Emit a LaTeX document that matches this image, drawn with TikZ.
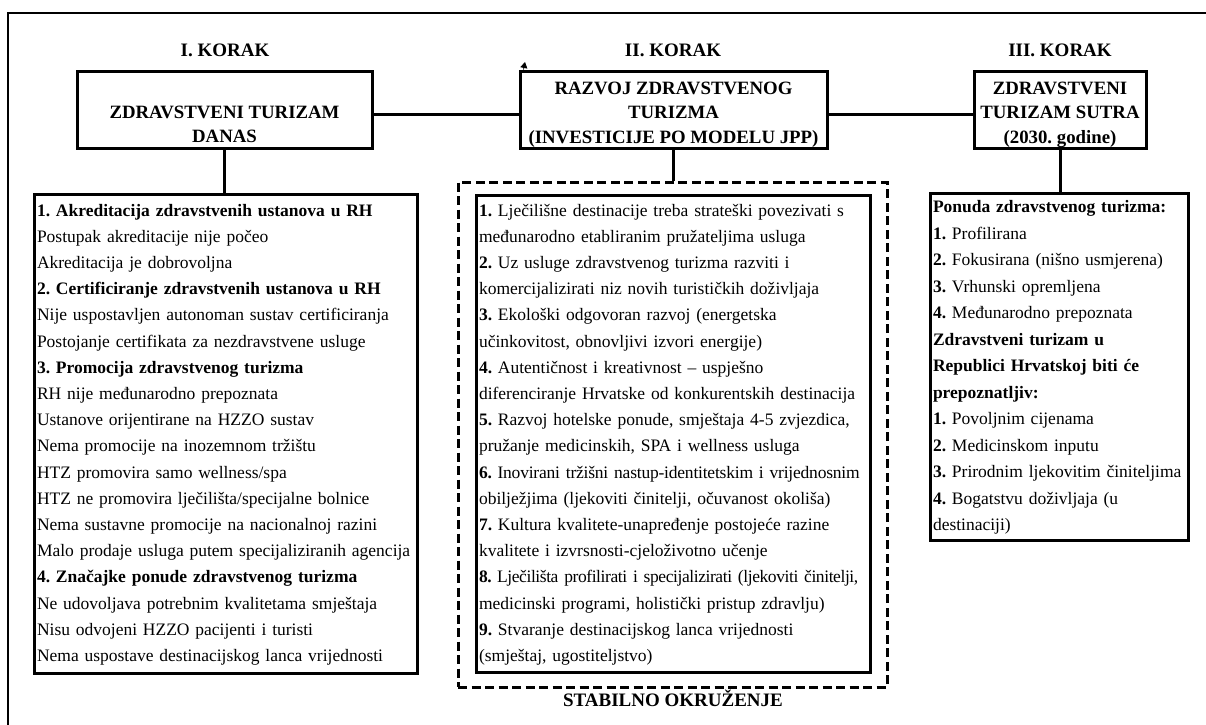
\documentclass[tikz,border=0pt]{standalone}
\usepackage{fontspec}
\setmainfont{Liberation Serif}
\usetikzlibrary{arrows.meta, positioning}
\newcommand{\tightline}[2][-1.2]{{\addfontfeatures{LetterSpace=#1}#2}}

\begin{document}
\frenchspacing
\begin{tikzpicture}[x=1pt, y=-1pt, >=Stealth,
  every node/.style={font=\fontsize{17.5}{26.2}\selectfont},
  korak/.style={font=\bfseries\fontsize{19}{22}\selectfont, inner sep=0pt},
  stepbox/.style={draw, line width=3pt, inner sep=0pt, minimum height=77pt},
  steptext/.style={align=center, inner sep=0pt, font=\bfseries\fontsize{18.8}{24.5}\selectfont},
  listbox/.style={draw, line width=3pt, inner xsep=3pt, inner ysep=0pt},
  envbox/.style={draw, line width=3pt, dash pattern=on 9pt off 4.5pt, inner sep=0pt},
  link/.style={line width=3pt}]
  \useasboundingbox (0,0) rectangle (1206,724);
  % outer frame (cut at the right and bottom)
  \begin{scope}
    \clip (0,0) rectangle (1206,724);
    \draw[line width=1.6pt] (8,13) rectangle (1220,740);
  \end{scope}
  % Step I
  \node[korak] (k1) at (225,50) {I. KORAK};
  \node[stepbox, minimum width=295pt] (box1) at (224.5,109.5) {};
  \node[steptext] (box1 text) at ([yshift=-15pt]box1.center) {ZDRAVSTVENI TURIZAM\\DANAS};
  \node[listbox, text width=377pt, minimum height=479pt] (list1) at (225.5,433.5) {%
    \begin{tabular}{@{}l@{}}
    \textbf{1. Akreditacija zdravstvenih ustanova u RH}\\
    Postupak akreditacije nije počeo\\
    Akreditacija je dobrovoljna\\
    \textbf{2. Certificiranje zdravstvenih ustanova u RH}\\
    Nije uspostavljen autonoman sustav certificiranja\\
    Postojanje certifikata za nezdravstvene usluge\\
    \textbf{3. Promocija zdravstvenog turizma}\\
    RH nije međunarodno prepoznata\\
    Ustanove orijentirane na HZZO sustav\\
    Nema promocije na inozemnom tržištu\\
    HTZ promovira samo wellness/spa\\
    HTZ ne promovira lječilišta/specijalne bolnice\\
    Nema sustavne promocije na nacionalnoj razini\\
    Malo prodaje usluga putem specijaliziranih agencija\\
    \textbf{4. Značajke ponude zdravstvenog turizma}\\
    Ne udovoljava potrebnim kvalitetama smještaja\\
    Nisu odvojeni HZZO pacijenti i turisti\\
    Nema uspostave destinacijskog lanca vrijednosti
    \end{tabular}};
  \draw[link] (box1.south) -- (box1.south |- list1.north);
  % Step II
  \node[korak] (k2) at (673,50) {II. KORAK};
  \node[stepbox, minimum width=307pt] (box2) at (673.5,109.5) {};
  \node[steptext] (box2 text) at ([yshift=-5pt]box2.center) {RAZVOJ ZDRAVSTVENOG\\TURIZMA\\(INVESTICIJE PO MODELU JPP)};
  \coordinate (stub) at (525,62);
  \draw[-{Triangle[length=6pt,width=7pt]}, line width=0.8pt] ([xshift=5pt]box2.north west) -- (stub);
  \node[envbox, minimum width=429pt, minimum height=505pt] (env) at (672.5,434.5) {};
  \node[listbox, text width=388pt, minimum height=477pt] (list2) at (673,433.5) {%
    \begin{tabular}{@{}l@{}}
    \textbf{1.} Lječilišne destinacije treba strateški povezivati s\\
    međunarodno etabliranim pružateljima usluga\\
    \textbf{2.} Uz usluge zdravstvenog turizma razviti i\\
    komercijalizirati niz novih turističkih doživljaja\\
    \textbf{3.} Ekološki odgovoran razvoj (energetska\\
    učinkovitost, obnovljivi izvori energije)\\
    \textbf{4.} Autentičnost i kreativnost – uspješno\\
    diferenciranje Hrvatske od konkurentskih destinacija\\
    \textbf{5.} Razvoj hotelske ponude, smještaja 4-5 zvjezdica,\\
    pružanje medicinskih, SPA i wellness usluga\\
    \tightline{\textbf{6.} Inovirani tržišni nastup-identitetskim i vrijednosnim}\\
    obilježjima (ljekoviti činitelji, očuvanost okoliša)\\
    \textbf{7.} Kultura kvalitete-unapređenje postojeće razine\\
    kvalitete i izvrsnosti-cjeloživotno učenje\\
    \tightline[-2.4]{\textbf{8.} Lječilišta profilirati i specijalizirati (ljekoviti činitelji,}\\
    medicinski programi, holistički pristup zdravlju)\\
    \textbf{9.} Stvaranje destinacijskog lanca vrijednosti\\
    (smještaj, ugostiteljstvo)
    \end{tabular}};
  \draw[link] (box2.south) -- (box2.south |- env.north);
  \node[korak] (env label) at (673,698) {STABILNO OKRUŽENJE};
  % Step III
  \node[korak] (k3) at (1060,50) {III. KORAK};
  \node[stepbox, minimum width=172pt] (box3) at (1060,109.5) {};
  \node[steptext] (box3 text) at ([yshift=-5pt]box3.center) {ZDRAVSTVENI\\TURIZAM SUTRA\\(2030. godine)};
  \node[listbox, text width=252pt, minimum height=347pt,
    font=\fontsize{17.5}{26.5}\selectfont] (list3) at (1059,366.5) {%
    \begin{tabular}{@{}l@{}}
    \textbf{Ponuda zdravstvenog turizma:}\\
    \textbf{1.} Profilirana\\
    \textbf{2.} Fokusirana (nišno usmjerena)\\
    \textbf{3.} Vrhunski opremljena\\
    \textbf{4.} Međunarodno prepoznata\\
    \textbf{Zdravstveni turizam u}\\
    \textbf{Republici Hrvatskoj biti će}\\
    \textbf{prepoznatljiv:}\\
    \textbf{1.} Povoljnim cijenama\\
    \textbf{2.} Medicinskom inputu\\
    \textbf{3.} Prirodnim ljekovitim činiteljima\\
    \textbf{4.} Bogatstvu doživljaja (u\\
    destinaciji)
    \end{tabular}};
  \draw[link] (box3.south) -- (box3.south |- list3.north);
  % links between the steps
  \draw[link] ([yshift=-4.5pt]box1.east) -- ([yshift=-4.5pt]box2.west);
  \draw[link] ([yshift=-4.5pt]box2.east) -- ([yshift=-4.5pt]box3.west);
\end{tikzpicture}
\end{document}
